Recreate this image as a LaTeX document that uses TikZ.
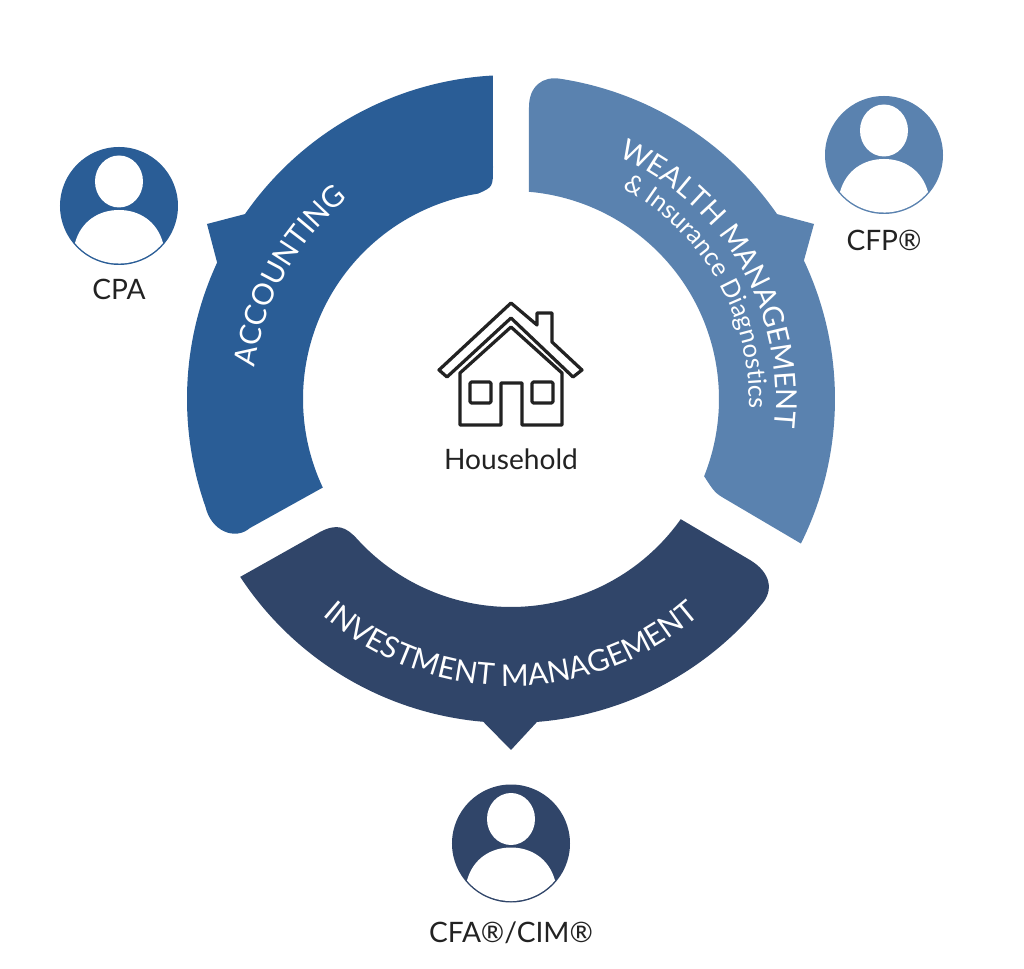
\documentclass[tikz,border=0pt]{standalone}
\usepackage{fontspec}
\setmainfont{Lato}
\usetikzlibrary{decorations.text}

\definecolor{acctblue}{HTML}{2A5D96}
\definecolor{wealthblue}{HTML}{5A82AF}
\definecolor{investblue}{HTML}{304569}
\definecolor{labelgray}{HTML}{222222}

\tikzset{
  labeltext/.style={text=labelgray, font=\fontsize{20}{24}\selectfont, inner sep=0pt},
  houseline/.style={line width=2.3pt, line join=round, labelgray},
}

\begin{document}
\begin{tikzpicture}[scale=0.025]

% Page frame, origin at the centre of the ring
\useasboundingbox (-511,-570) rectangle (513,399);

% Accounting segment
\fill[acctblue] (93.2:324) arc[start angle=93.2, end angle=145.2, radius=324]
  -- (-304,175) -- (155.1:324) arc[start angle=155.1, end angle=199.4, radius=324]
  .. controls (-300,-132) and (-276,-142) .. (-261,-129)
  -- (205.2:208) arc[start angle=205.2, end angle=99.1, radius=208]
  .. controls (-18,212) .. (-18,232) -- cycle;

% Wealth segment
\fill[wealthblue] (18,292) .. controls (18,313) and (32,323) .. (81.3:324)
  arc[start angle=81.3, end angle=34.8, radius=324]
  -- (303,175) -- (25.3:324) arc[start angle=25.3, end angle=-26.5, radius=324]
  -- (216,-101) .. controls (204,-94) .. (-21.8:208)
  arc[start angle=-21.8, end angle=85.1, radius=208] -- cycle;

% Investment segment
\fill[investblue] (213.3:324) -- (-191,-133) .. controls (-174,-124) and (-165,-128) .. (222.1:208)
  arc[start angle=222.1, end angle=324.7, radius=208]
  -- (239,-161) .. controls (259,-173) and (264,-191) .. (-39.6:324)
  arc[start angle=-39.6, end angle=-85.4, radius=324]
  -- (0,-351) -- (265.1:324) arc[start angle=265.1, end angle=213.3, radius=324];

% Segment titles
\path[decorate, decoration={text along path, text align=center,
  text={|\fontsize{21}{25}\selectfont\color{white}|ACCOUNTING}}]
  (201:258) arc[start angle=201, end angle=101, radius=258];
\path[decorate, decoration={text along path, text align=center,
  text={|\fontsize{20.5}{25}\selectfont\color{white}|WEALTH MANAGEMENT}}]
  (90:265) arc[start angle=90, end angle=-30, radius=265];
\path[decorate, decoration={text along path, text align=center,
  text={|\fontsize{18}{21}\selectfont\color{white}|{\&} Insurance Diagnostics}}]
  (90:238) arc[start angle=90, end angle=-30, radius=238];
\path[decorate, decoration={text along path, text align=center,
  text={|\fontsize{21.3}{25}\selectfont\color{white}|INVESTMENT MANAGEMENT}}]
  (210:287) arc[start angle=210, end angle=330, radius=287];

% House
\begin{scope}[shift={(-91,109)}]
  \draw[houseline] (91,-13) -- (117,-35) -- (117,-23) -- (132,-23) -- (132,-52)
    -- (162,-80) -- (153,-87) -- (91,-28) -- (27,-87) -- (19,-80) -- cycle; % roof
  \draw[houseline] (91,-37) -- (142,-83) -- (142,-135) -- (102,-135) -- (102,-93)
    -- (81,-93) -- (81,-135) -- (40,-135) -- (40,-83) -- cycle; % walls and door
  \draw[houseline, rounded corners=1] (50,-92) rectangle (71,-113); % window
  \draw[houseline, rounded corners=1] (112,-92) rectangle (133,-113); % window
\end{scope}
\node[labeltext] (household) at (0,-60) {Household};

% CPA person
\begin{scope}[shift={(-392,193)}]
  \fill[acctblue] (0,0) circle(59);
  \fill[white] (0,24.5) ellipse (24 and 26);
  \fill[white] (-44,-37) .. controls (-38,-15) and (-20,-4) .. (0,-4)
    .. controls (20,-4) and (38,-15) .. (44,-37)
    arc[start angle=-40, end angle=-140, radius=57.5] -- cycle;
\end{scope}
\node[labeltext] (cpa) at (-392,110) {CPA};

% CFP person
\begin{scope}[shift={(373,244)}]
  \fill[wealthblue] (0,0) circle(59);
  \fill[white] (0,24.5) ellipse (24 and 26);
  \fill[white] (-44,-37) .. controls (-38,-15) and (-20,-4) .. (0,-4)
    .. controls (20,-4) and (38,-15) .. (44,-37)
    arc[start angle=-40, end angle=-140, radius=57.5] -- cycle;
\end{scope}
\node[labeltext] (cfp) at (373,159) {CFP®};

% CFA person
\begin{scope}[shift={(0,-444.5)}]
  \fill[investblue] (0,0) circle(59);
  \fill[white] (0,24.5) ellipse (24 and 26);
  \fill[white] (-44,-37) .. controls (-38,-15) and (-20,-4) .. (0,-4)
    .. controls (20,-4) and (38,-15) .. (44,-37)
    arc[start angle=-40, end angle=-140, radius=57.5] -- cycle;
\end{scope}
\node[labeltext] (cfa) at (0,-534) {CFA®/CIM®};

\end{tikzpicture}
\end{document}
